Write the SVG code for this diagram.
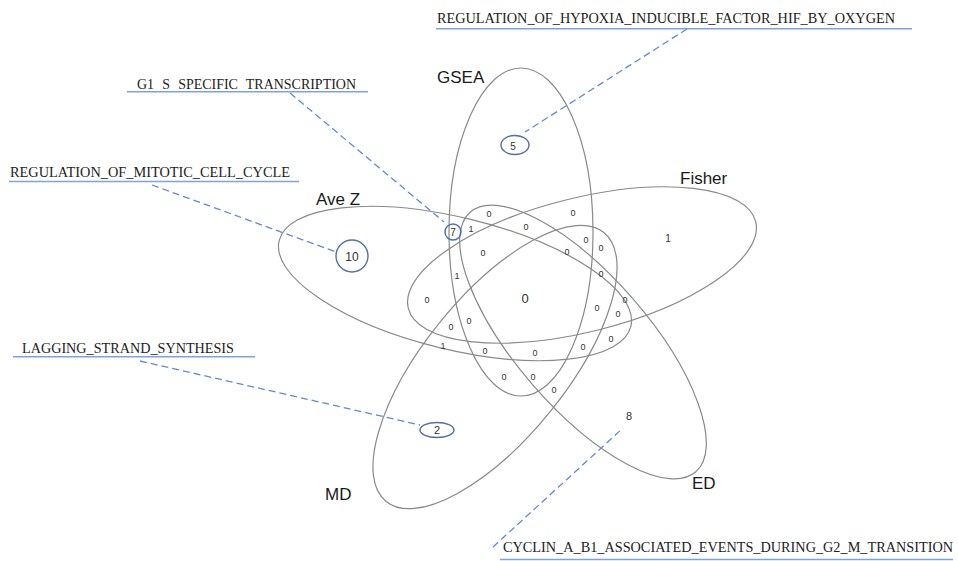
<svg xmlns="http://www.w3.org/2000/svg" width="958" height="561" viewBox="0 0 958 561">
<style>
.set{fill:none;stroke:#8a8a8a;stroke-width:1.2}
.setlbl{font-family:"Liberation Sans",Arial,sans-serif;font-size:17px;fill:#1a1a1a}
.n{font-family:"Liberation Sans",Arial,sans-serif;font-size:9px;fill:#333;text-anchor:middle}
.hl{fill:none;stroke:#4f70a8;stroke-width:1.4}
.lead{fill:none;stroke:#5f8bd0;stroke-width:1.3;stroke-dasharray:7 4}
.ul{stroke:#7ea3dc;stroke-width:1.6}
.cap{font-family:"Liberation Serif","Times New Roman",serif;font-size:15px;fill:#222}
</style>
<rect width="958" height="561" fill="#fff"/>
<g id="set-gsea"><ellipse class="set" cx="521" cy="232" rx="72" ry="164"/><text class="setlbl" x="437" y="83">GSEA</text></g>
<g id="set-fisher"><ellipse class="set" cx="582" cy="265" rx="179" ry="67" transform="rotate(-14 582 265)"/><text class="setlbl" x="680" y="184">Fisher</text></g>
<g id="set-avez"><ellipse class="set" cx="455" cy="283.5" rx="181" ry="66" transform="rotate(13.7 455 283.5)"/><text class="setlbl" x="316" y="205">Ave Z</text></g>
<g id="set-md"><ellipse class="set" cx="495" cy="367" rx="173" ry="71" transform="rotate(-51 495 367)"/><text class="setlbl" x="325" y="500">MD</text></g>
<g id="set-ed"><ellipse class="set" cx="583" cy="342" rx="172" ry="66" transform="rotate(49 583 342)"/><text class="setlbl" x="692" y="489">ED</text></g>
<g id="counts">
<text class="n" x="471" y="232">1</text>
<text class="n" x="489" y="217">0</text>
<text class="n" x="573" y="216">0</text>
<text class="n" x="526" y="230">0</text>
<text class="n" x="586" y="243">0</text>
<text class="n" x="601" y="251">0</text>
<text class="n" x="483" y="256">0</text>
<text class="n" x="567" y="255">0</text>
<text class="n" x="601" y="277">0</text>
<text class="n" x="457" y="279">1</text>
<text class="n" x="427" y="303">0</text>
<text class="n" x="625" y="303">0</text>
<text class="n" x="597" y="311">0</text>
<text class="n" x="618" y="317">0</text>
<text class="n" x="469" y="324">0</text>
<text class="n" x="451" y="330">0</text>
<text class="n" x="443" y="349">1</text>
<text class="n" x="485" y="354">0</text>
<text class="n" x="535" y="356">0</text>
<text class="n" x="583" y="350">0</text>
<text class="n" x="611" y="342">0</text>
<text class="n" x="504" y="380">0</text>
<text class="n" x="533" y="380">0</text>
<text class="n" x="554" y="393">0</text>
<text class="n" x="525" y="303" style="font-size:13px">0</text>
<text class="n" x="668" y="242" style="font-size:10px">1</text>
<text class="n" x="629" y="420" style="font-size:11px">8</text>
</g>
<g id="hl-10"><circle class="hl" cx="352" cy="256" r="16"/><text class="n" x="352" y="260.5" style="font-size:12px">10</text></g>
<g id="hl-7"><circle class="hl" cx="453" cy="232" r="8"/><text class="n" x="453" y="235.5" style="font-size:10px">7</text></g>
<g id="hl-5"><ellipse class="hl" cx="515" cy="145" rx="14" ry="9.5"/><text class="n" x="513" y="149.5" style="font-size:10px">5</text></g>
<g id="hl-2"><ellipse class="hl" cx="437" cy="430" rx="17" ry="7.5"/><text class="n" x="437" y="434" style="font-size:11px">2</text></g>
<g id="lbl-hif"><text class="cap" x="437" y="22.5" textLength="458" lengthAdjust="spacingAndGlyphs">REGULATION_OF_HYPOXIA_INDUCIBLE_FACTOR_HIF_BY_OXYGEN</text><line class="ul" x1="436" y1="28.7" x2="912" y2="28.7"/></g>
<g id="lbl-g1s"><text class="cap" x="137" y="89" textLength="219" lengthAdjust="spacingAndGlyphs" style="word-spacing:5px">G1 S SPECIFIC TRANSCRIPTION</text><line class="ul" x1="127" y1="91.8" x2="368" y2="91.8"/></g>
<g id="lbl-mitotic"><text class="cap" x="10" y="176.7" textLength="280" lengthAdjust="spacingAndGlyphs">REGULATION_OF_MITOTIC_CELL_CYCLE</text><line class="ul" x1="9" y1="181.5" x2="299" y2="181.5"/></g>
<g id="lbl-lagging"><text class="cap" x="22" y="353" textLength="212" lengthAdjust="spacingAndGlyphs">LAGGING_STRAND_SYNTHESIS</text><line class="ul" x1="13" y1="356.7" x2="255" y2="356.7"/></g>
<g id="lbl-cyclin"><text class="cap" x="503" y="552" textLength="450" lengthAdjust="spacingAndGlyphs" style="font-size:14px">CYCLIN_A_B1_ASSOCIATED_EVENTS_DURING_G2_M_TRANSITION</text><line class="ul" x1="500" y1="559.5" x2="953" y2="559.5"/></g>
<g id="connectors">
<line class="lead" x1="687" y1="29" x2="525" y2="132"/>
<line class="lead" x1="290" y1="93" x2="444" y2="222"/>
<line class="lead" x1="152" y1="185" x2="336" y2="252"/>
<line class="lead" x1="140" y1="361" x2="420" y2="425"/>
<line class="lead" x1="493" y1="547" x2="623" y2="428"/>
</g>
</svg>
